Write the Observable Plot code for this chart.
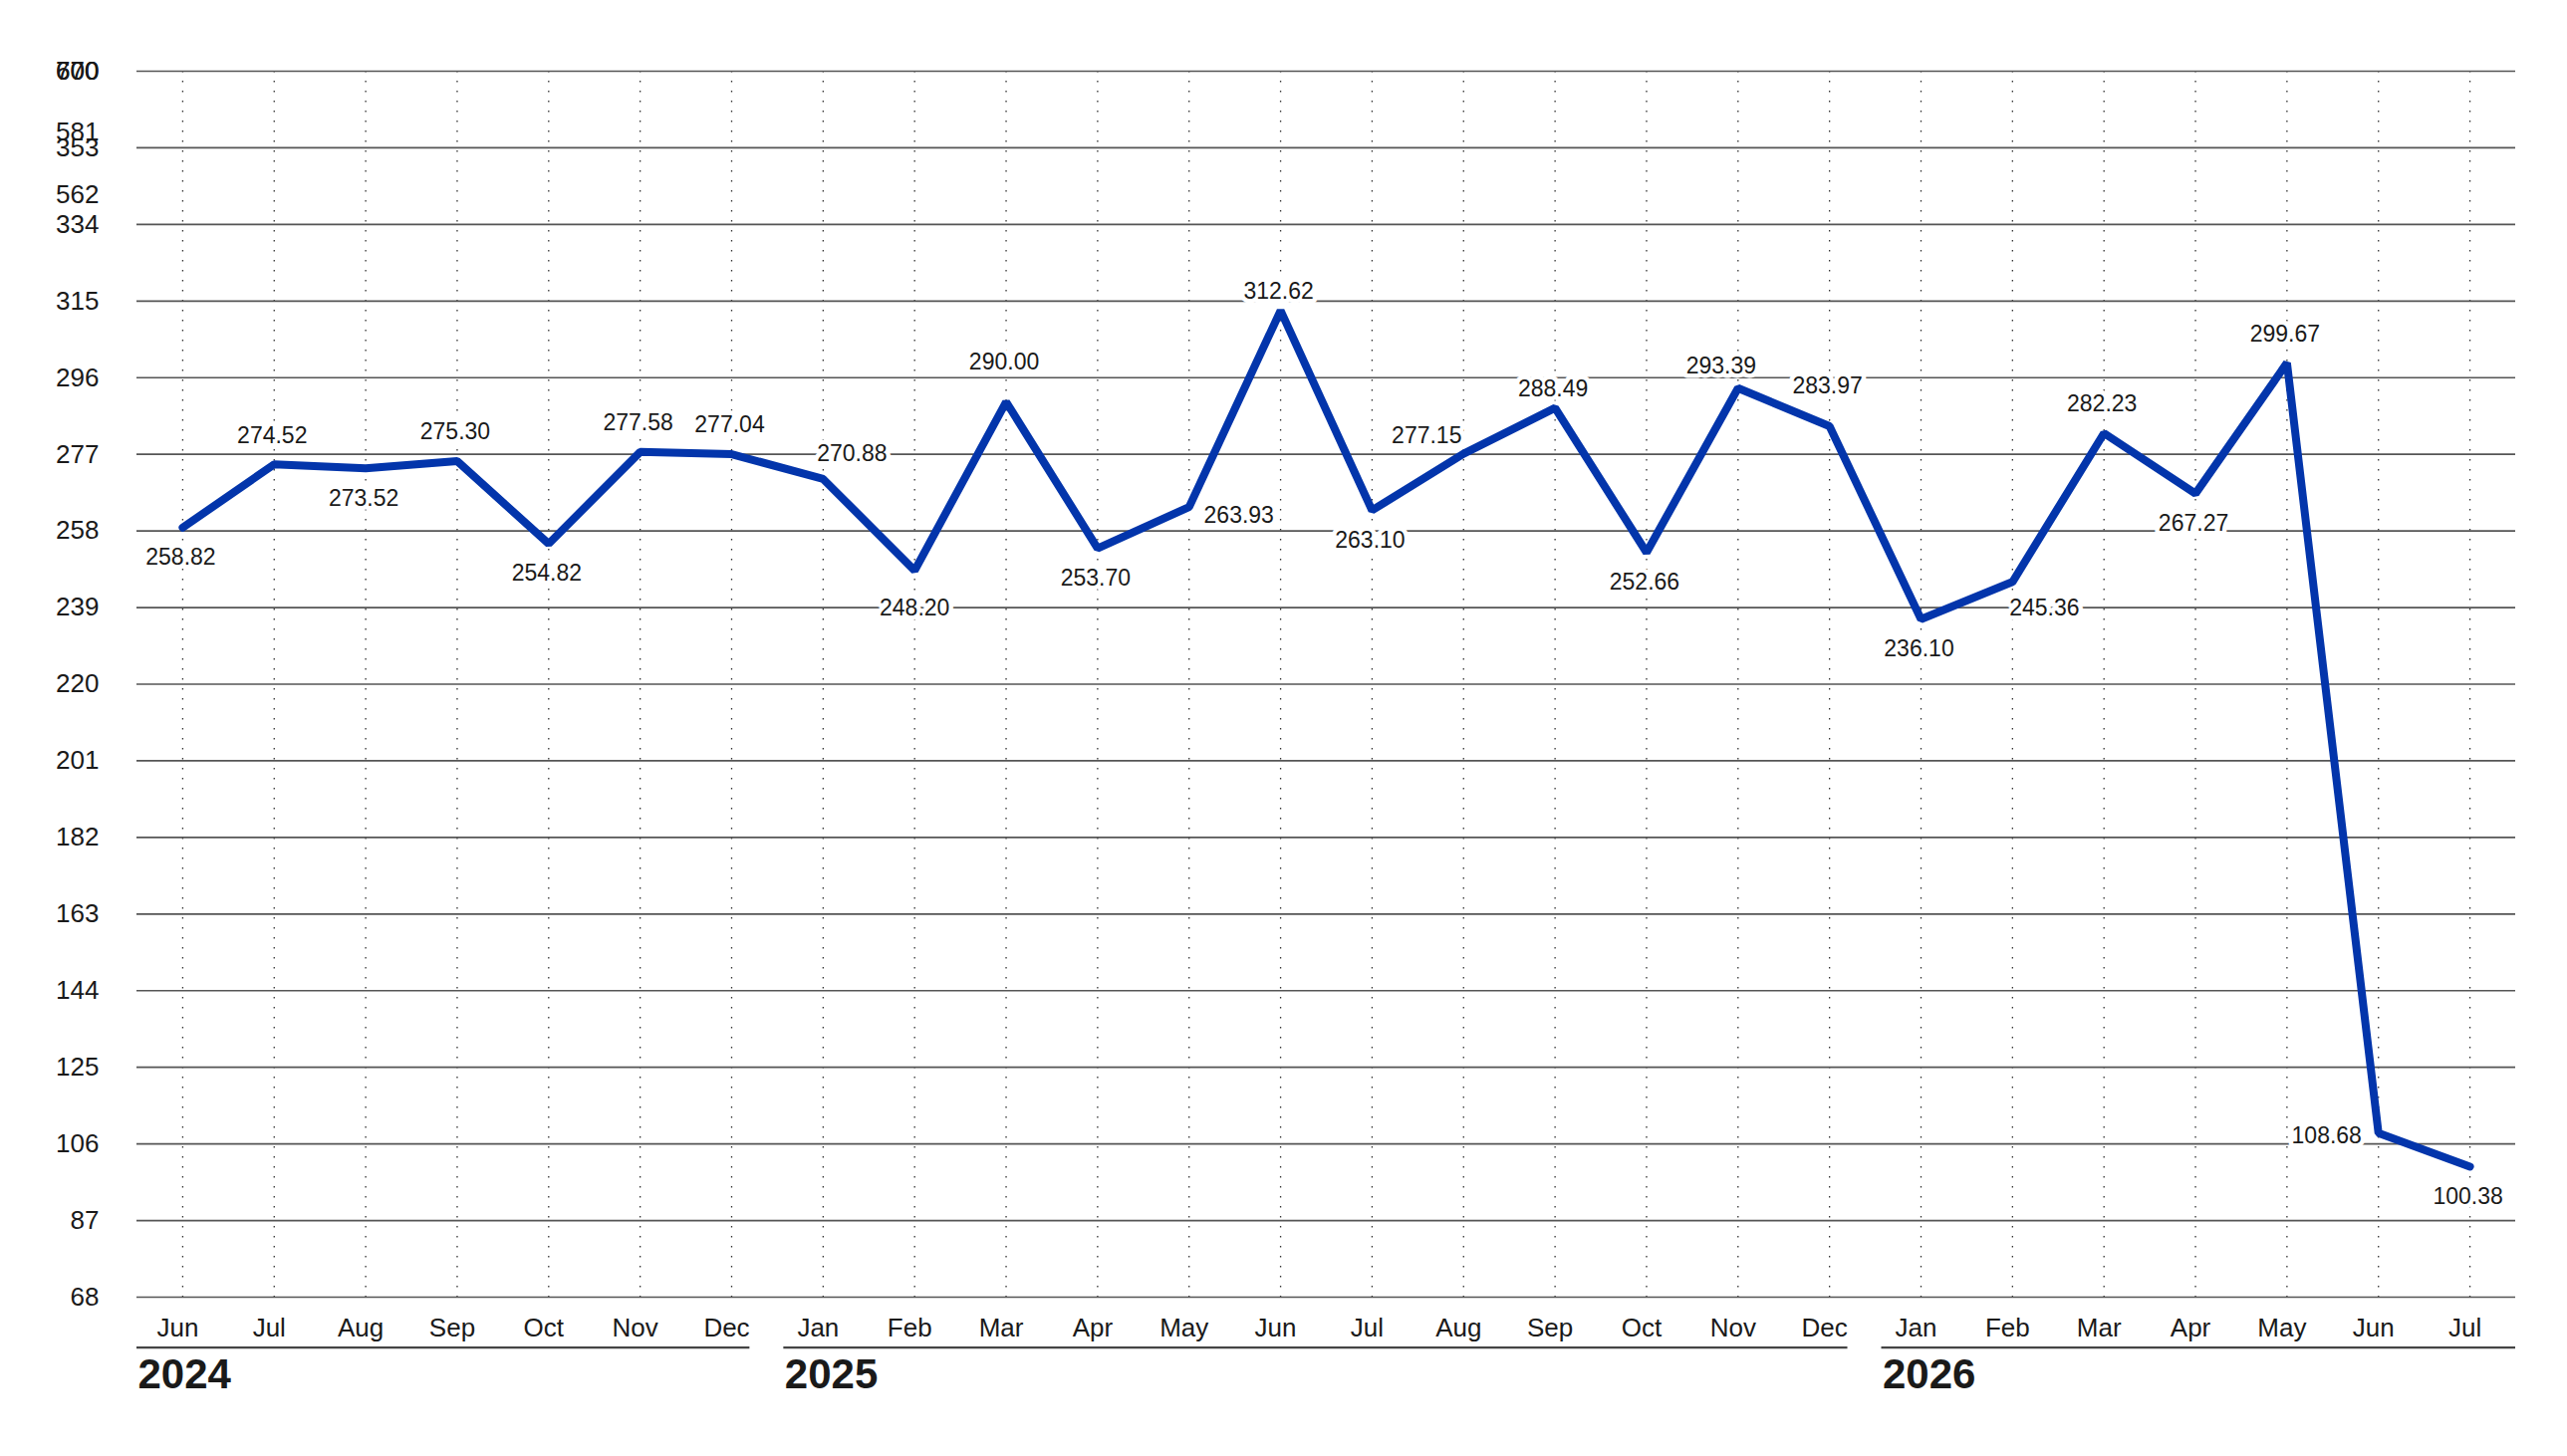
<!DOCTYPE html>
<html>
<head>
<meta charset="utf-8">
<script src="https://cdn.jsdelivr.net/npm/d3@7"></script>
<script src="https://cdn.jsdelivr.net/npm/@observablehq/plot@0.6"></script>
<style>
  html, body { margin: 0; padding: 0; background: #fff; }
  #chart svg { display: block; }
</style>
</head>
<body>
<div id="chart"></div>
<script>
// ---- data ----
const months = ["Jun","Jul","Aug","Sep","Oct","Nov","Dec",
                "Jan","Feb","Mar","Apr","May","Jun","Jul","Aug","Sep","Oct","Nov","Dec",
                "Jan","Feb","Mar","Apr","May","Jun","Jul"];
const years  = [2024,2024,2024,2024,2024,2024,2024,
                2025,2025,2025,2025,2025,2025,2025,2025,2025,2025,2025,2025,
                2026,2026,2026,2026,2026,2026,2026];
const values = [258.82,274.52,273.52,275.30,254.82,277.58,277.04,
                270.88,248.20,290.00,253.70,263.93,312.62,263.10,277.15,288.49,252.66,293.39,283.97,
                236.10,245.36,282.23,267.27,299.67,108.68,100.38];
// where each value label sits relative to its point
const labelSide = ["s","n","s","n","s","n","n",
                   "ne","sf","nf","s","e","nc","s","nw","nc","s","nnw","nf",
                   "s","se","n","s","n","w","s"];
const yTicks = [68,87,106,125,144,163,182,201,220,239,258,277,296,315,334,353];
const gridTop = 372;
const extraTickLabels = ["600","670","700","581","562"];
const extraTickValues = [372,372,372,356.9,341.4];

// ---- build tables ----
const data = values.map((v, i) => ({i, v, month: months[i], year: years[i], side: labelSide[i]}));
const gridValues = [...yTicks, gridTop];
const extra = extraTickLabels.map((t, k) => ({text: t, value: extraTickValues[k]}));
const n = values.length;
const yearGroups = Array.from(d3.group(data, d => d.year), ([year, rows]) => {
  const first = d3.min(rows, r => r.i), last = d3.max(rows, r => r.i);
  return {
    year: String(year),
    start: first === 0 ? -0.5 : first - 0.43,
    end: last === n - 1 ? n - 0.5 : last + 0.2
  };
});

const offsets = {
  n:   [-2, -29],
  nf:  [-2, -40],
  nc:  [-2, -19],
  nnw: [-17, -22],
  s:   [-2, 30],
  sf:  [0, 38],
  e:   [50, 9],
  w:   [-52, 3],
  ne:  [29, -25],
  nw:  [-37, -18],
  se:  [32, 26]
};

const font = "'Liberation Sans', Arial, Helvetica, sans-serif";
const ink = "#1a1a1a";

const labelMarks = Object.entries(offsets).map(([side, [dx, dy]]) =>
  Plot.text(data.filter(d => d.side === side), {
    x: "i", y: "v", text: d => d.v.toFixed(2),
    dx, dy, fontSize: 23, fill: ink,
    stroke: "white", strokeWidth: 9, paintOrder: "stroke"
  })
);

const chart = Plot.plot({
  width: 2577,
  height: 1462,
  marginTop: 71,
  marginBottom: 160,
  marginLeft: 137,
  marginRight: 52,
  x: {domain: [-0.5, n - 0.5], axis: null},
  y: {domain: [68, gridTop], axis: null},
  style: {fontFamily: font, background: "#fff", overflow: "visible"},
  marks: [
    Plot.ruleX(data, {x: "i", stroke: "#333", strokeWidth: 1.3, strokeDasharray: "1.5,8.5"}),
    Plot.ruleY(gridValues, {y: d => d, stroke: "#555", strokeWidth: 1.7}),
    Plot.line(data, {x: "i", y: "v", stroke: "#0335AB", strokeWidth: 8,
                     strokeLinejoin: "miter", strokeLinecap: "round"}),
    ...labelMarks,
    Plot.text(yTicks, {y: d => d, text: d => String(d), frameAnchor: "left",
                       textAnchor: "end", dx: -38, fontSize: 26, fill: ink}),
    Plot.text(extra, {y: "value", text: "text", frameAnchor: "left",
                      textAnchor: "end", dx: -38, fontSize: 26, fill: ink}),
    Plot.text(data, {x: "i", y: () => 68, text: "month", dy: 31, dx: -5, fontSize: 26, fill: ink}),
    Plot.ruleY(yearGroups, {y: () => 68, x1: "start", x2: "end", dy: 50.6,
                            stroke: "#444", strokeWidth: 2.2}),
    Plot.text(yearGroups, {x: "start", y: () => 68, text: "year", dy: 78, dx: 1,
                           textAnchor: "start", fontSize: 42, fontWeight: "bold", fill: ink})
  ]
});
document.getElementById("chart").appendChild(chart);
</script>
</body>
</html>
